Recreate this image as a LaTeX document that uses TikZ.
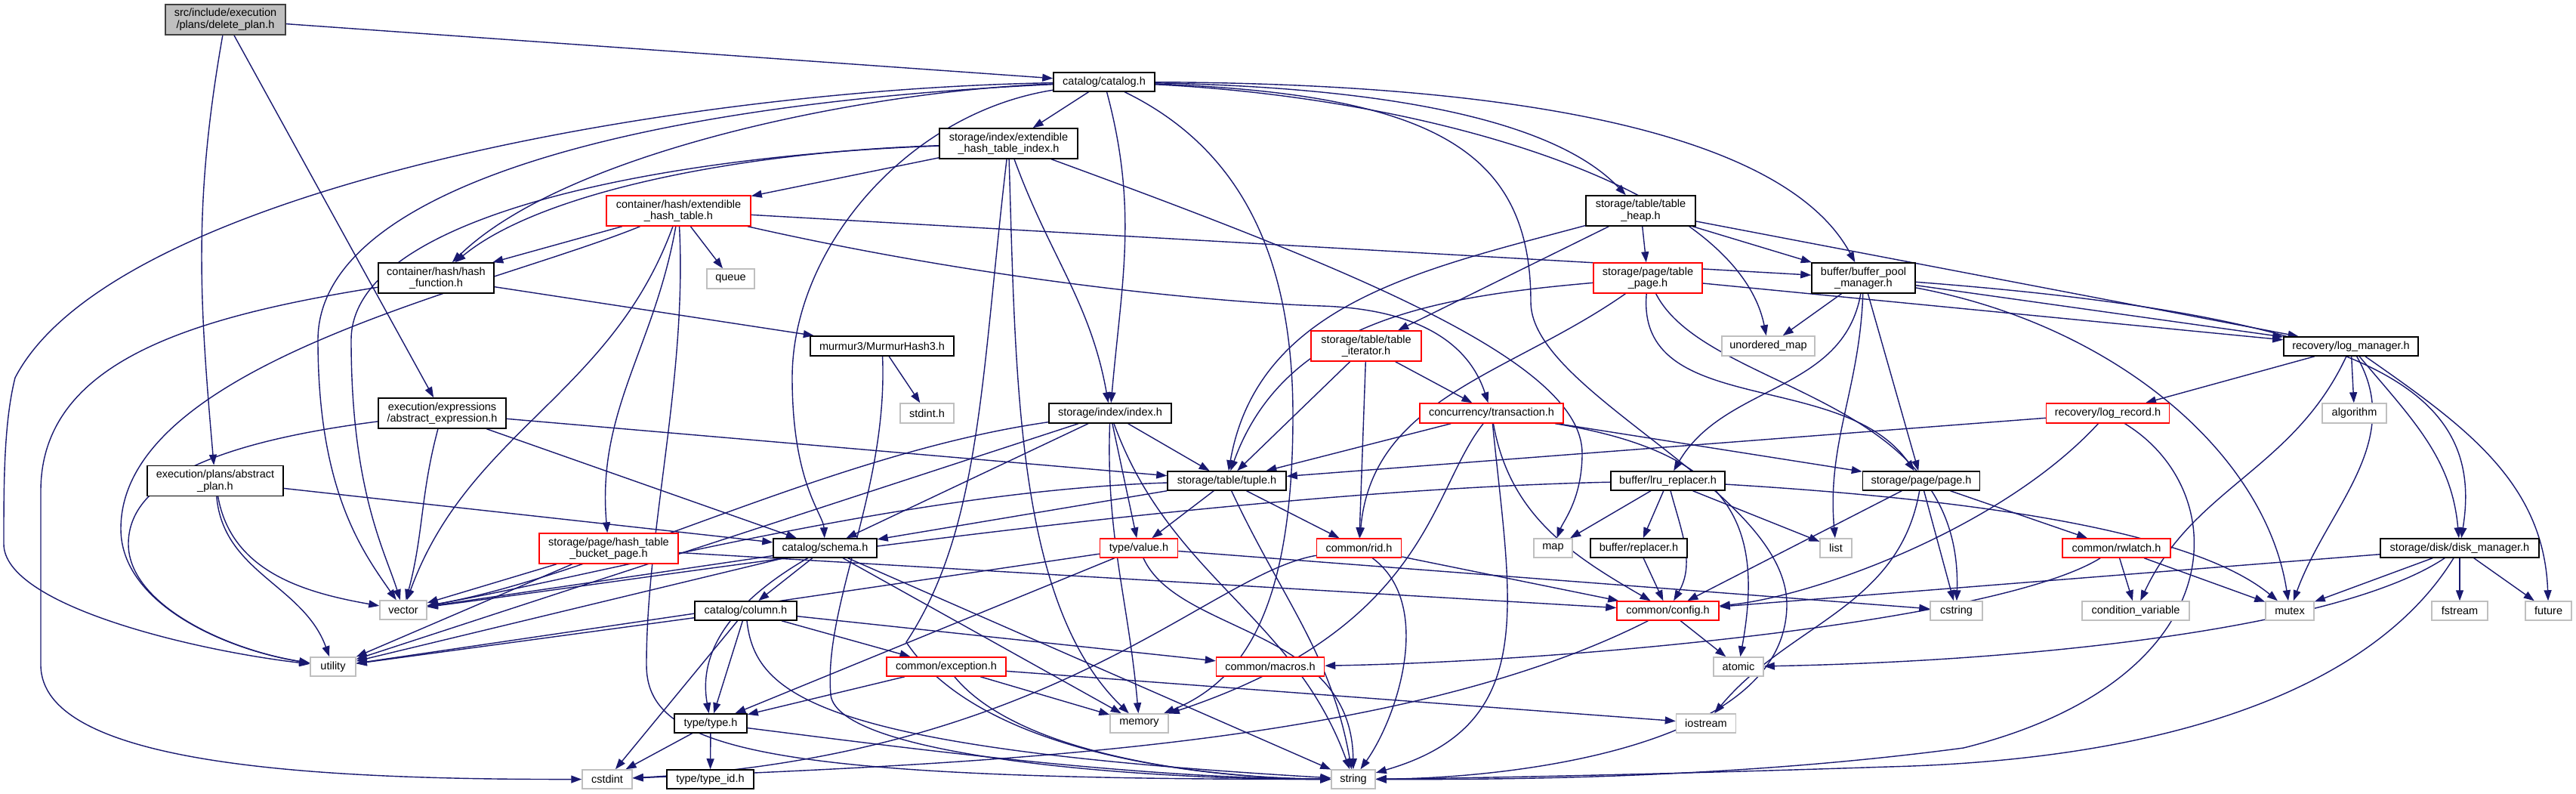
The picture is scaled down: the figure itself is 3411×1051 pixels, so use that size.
\documentclass[tikz,border=0pt]{standalone}
\usepackage{fontspec}
\setmainfont{Liberation Sans}
\usetikzlibrary{arrows.meta}
\pgfdeclarelayer{bg}
\pgfsetlayers{bg,main}
\definecolor{edgec}{HTML}{191970}
\definecolor{sysc}{HTML}{BFBFBF}
\definecolor{redc}{HTML}{FF0000}
\definecolor{rootf}{HTML}{BFBFBF}
\definecolor{rootb}{HTML}{404040}
\tikzset{
  base/.style={draw, line width=1.5pt, inner sep=0pt, fill=white, align=center,
     font=\fontsize{14.5}{15.5}\selectfont, minimum height=25pt},
  docn/.style={base, draw=black},
  rnode/.style={base, draw=redc},
  sysn/.style={base, draw=sysc},
  rootn/.style={base, draw=rootb, fill=rootf},
  two/.style={minimum height=40pt},
  edg/.style={draw=edgec, line width=1.4pt, -{Triangle[length=14pt,width=10pt]}}
}
\begin{document}
\begin{tikzpicture}[x=1pt,y=1pt]
\useasboundingbox (0,0) rectangle (3411,-1051);
% nodes
\node[rootn,two,minimum width=159pt] (d0) at (298.5,-26) {src/include/execution\\/plans/delete\_plan.h};
\node[docn,minimum width=134pt] (catalog) at (1462,-108.5) {catalog/catalog.h};
\node[docn,two,minimum width=183pt] (extidx) at (1335.5,-190) {storage/index/extendible\\\_hash\_table\_index.h};
\node[rnode,two,minimum width=191pt] (exthash) at (898.5,-279) {container/hash/extendible\\\_hash\_table.h};
\node[docn,two,minimum width=145pt] (tableheap) at (2172.5,-279) {storage/table/table\\\_heap.h};
\node[docn,two,minimum width=153pt] (hashfn) at (577.5,-368) {container/hash/hash\\\_function.h};
\node[sysn,minimum width=63pt,minimum height=26pt] (queue) at (967.5,-369) {queue};
\node[rnode,two,minimum width=144pt] (tablepage) at (2182,-368) {storage/page/table\\\_page.h};
\node[docn,two,minimum width=137pt] (bpm) at (2467.5,-368) {buffer/buffer\_pool\\\_manager.h};
\node[docn,minimum width=190pt,minimum height=26pt] (murmur) at (1168,-458) {murmur3/MurmurHash3.h};
\node[rnode,two,minimum width=146pt] (tableiter) at (1809,-458) {storage/table/table\\\_iterator.h};
\node[sysn,minimum width=123pt,minimum height=26pt] (umap) at (2341.5,-458) {unordered\_map};
\node[docn,minimum width=178pt] (logmgr) at (3113,-458.5) {recovery/log\_manager.h};
\node[docn,two,minimum width=169pt] (absexpr) at (585.5,-547) {execution/expressions\\/abstract\_expression.h};
\node[sysn,minimum width=71pt,minimum height=26pt] (stdint) at (1227.5,-547) {stdint.h};
\node[docn,minimum width=162pt,minimum height=26pt] (index) at (1470,-547) {storage/index/index.h};
\node[rnode,minimum width=190pt,minimum height=26pt] (txn) at (1975,-547) {concurrency/transaction.h};
\node[rnode,minimum width=163pt,minimum height=26pt] (logrec) at (2791,-547) {recovery/log\_record.h};
\node[sysn,minimum width=85pt,minimum height=26pt] (algorithm) at (3117.5,-547) {algorithm};
\node[docn,two,minimum width=180pt] (absplan) at (285,-636.5) {execution/plans/abstract\\\_plan.h};
\node[docn,minimum width=157pt] (tuple) at (1624.5,-636.5) {storage/table/tuple.h};
\node[docn,minimum width=151pt] (lru) at (2208.5,-636.5) {buffer/lru\_replacer.h};
\node[docn,minimum width=155pt] (page) at (2544,-636.5) {storage/page/page.h};
\node[rnode,two,minimum width=184pt] (bucket) at (806,-726) {storage/page/hash\_table\\\_bucket\_page.h};
\node[docn,minimum width=137pt] (schema) at (1092.5,-725.5) {catalog/schema.h};
\node[rnode,minimum width=103pt] (value) at (1508,-725.5) {type/value.h};
\node[rnode,minimum width=112pt] (rid) at (1799.5,-725.5) {common/rid.h};
\node[sysn,minimum width=51pt] (map) at (2056.5,-725.5) {map};
\node[docn,minimum width=128pt] (replacer) at (2170,-725.5) {buffer/replacer.h};
\node[sysn,minimum width=42pt] (list) at (2431,-725.5) {list};
\node[rnode,minimum width=143pt] (rwlatch) at (2802.5,-725.5) {common/rwlatch.h};
\node[docn,minimum width=210pt] (disk) at (3257,-725.5) {storage/disk/disk\_manager.h};
\node[sysn,minimum width=62pt] (vector) at (534,-807.5) {vector};
\node[docn,minimum width=135pt] (column) at (987.5,-808.5) {catalog/column.h};
\node[rnode,minimum width=135pt] (config) at (2208.5,-808.5) {common/config.h};
\node[sysn,minimum width=69pt] (cstring) at (2590.5,-808.5) {cstring};
\node[sysn,minimum width=142pt] (condvar) at (2828,-808.5) {condition\_variable};
\node[sysn,minimum width=64pt] (mutex) at (3032,-808.5) {mutex};
\node[sysn,minimum width=74pt] (fstream) at (3257,-808.5) {fstream};
\node[sysn,minimum width=61pt] (future) at (3374.5,-808.5) {future};
\node[sysn,minimum width=60pt] (utility) at (441,-882.5) {utility};
\node[rnode,minimum width=158pt] (exception) at (1253,-882.5) {common/exception.h};
\node[rnode,minimum width=143pt] (macros) at (1682,-882.5) {common/macros.h};
\node[sysn,minimum width=66pt] (atomic) at (2302,-882.5) {atomic};
\node[docn,minimum width=96pt] (type) at (941,-957.5) {type/type.h};
\node[sysn,minimum width=77pt] (memory) at (1508.5,-957.5) {memory};
\node[sysn,minimum width=79pt] (iostream) at (2259,-957.5) {iostream};
\node[sysn,minimum width=66pt] (cstdint) at (804,-1031.5) {cstdint};
\node[docn,minimum width=115pt] (typeid) at (940.5,-1031.5) {type/type\_id.h};
\node[sysn,minimum width=58pt] (string) at (1792,-1031.5) {string};
% edges
\begin{pgfonlayer}{bg}
\fill[white] (0,0) rectangle (3411,-1051);
% delete_plan
\draw[edg] (d0) -- (catalog);
\draw[edg] (d0) to[out=-100,in=95] (absplan);
\draw[edg] (d0) -- (absexpr);
% catalog
\draw[edg] (catalog) -- (extidx);
\draw[edg] (catalog) .. controls (1150,-120) and (750,-200) .. (hashfn);
\draw[edg] (catalog) .. controls (900,-118) and (150,-250) .. (20,-500) .. controls (5,-560) and (5,-640) .. (5,-720) .. controls (5,-800) and (250,-860) .. (utility);
\draw[edg] (catalog) .. controls (800,-140) and (421,-260) .. (421,-450) .. controls (421,-650) and (480,-730) .. (vector);
\draw[edg] (catalog) .. controls (1200,-150) and (1049,-330) .. (1049,-500) .. controls (1049,-640) and (1090,-680) .. (schema);
\draw[edg] (catalog) to[out=-75,in=85] (index);
\draw[edg] (catalog) .. controls (1800,-115) and (2050,-150) .. (tableheap);
\draw[edg] (catalog) .. controls (1900,-110) and (2350,-150) .. (bpm);
\draw[edg] (catalog) .. controls (1900,-130) and (2300,-250) .. (umap);
\draw[edg] (catalog) .. controls (1650,-200) and (1712,-350) .. (1712,-550) .. controls (1712,-800) and (1650,-900) .. (memory);
\draw[edg] (catalog) .. controls (1900,-125) and (2027,-200) .. (2027,-400) .. controls (2027,-520) and (2366,-650) .. (2366,-800) .. controls (2366,-990) and (2000,-1030) .. (string);
% extidx
\draw[edg] (extidx) -- (exthash);
\draw[edg] (extidx) .. controls (1000,-200) and (720,-250) .. (hashfn);
\draw[edg] (extidx) .. controls (900,-205) and (465,-280) .. (465,-450) .. controls (465,-650) and (510,-730) .. (vector);
\draw[edg] (extidx) .. controls (1299,-500) and (1299,-700) .. (1200,-850) .. controls (1300,-1000) and (1600,-1030) .. (string);
\draw[edg] (extidx) .. controls (1345,-500) and (1345,-800) .. (memory);
\draw[edg] (extidx) to[out=-70,in=100] (index);
\draw[edg] (extidx) .. controls (1800,-360) and (2095,-480) .. (2095,-600) .. controls (2095,-660) and (2070,-690) .. (map);
% exthash
\draw[edg] (exthash) -- (hashfn);
\draw[edg] (exthash) -- (queue);
\draw[edg] (exthash) -- (bpm);
\draw[edg] (exthash) .. controls (1300,-370) and (1600,-400) .. (1750,-405) .. controls (1900,-410) and (1950,-470) .. (txn);
\draw[edg] (exthash) to[out=-100,in=95] (bucket);
\draw[edg] (exthash) .. controls (650,-380) and (160,-480) .. (160,-700) .. controls (160,-800) and (300,-860) .. (utility);
\draw[edg] (exthash) to[out=-110,in=70] (vector);
\draw[edg] (exthash) .. controls (910,-500) and (856,-700) .. (856,-880) .. controls (856,-990) and (1000,-1032) .. (string);
% hashfn
\draw[edg] (hashfn) -- (murmur);
\draw[edg] (hashfn) .. controls (250,-420) and (54,-480) .. (54,-650) -- (54,-880) .. controls (54,-1010) and (400,-1032) .. (cstdint);
% murmur
\draw[edg] (murmur) -- (stdint);
\draw[edg] (murmur) .. controls (1176,-650) and (1090,-800) .. (1100,-920) .. controls (1110,-1000) and (1500,-1032) .. (string);
% absexpr
\draw[edg] (absexpr) .. controls (250,-590) and (170,-650) .. (170,-720) .. controls (170,-800) and (300,-860) .. (utility);
\draw[edg] (absexpr) to[out=-105,in=75] (vector);
\draw[edg] (absexpr) -- (tuple);
\draw[edg] (absexpr) -- (schema);
% absplan
\draw[edg] (absplan) -- (schema);
\draw[edg] (absplan) to[out=-85,in=110] (utility);
\draw[edg] (absplan) to[out=-80,in=170] (vector);
% index
\draw[edg] (index) -- (tuple);
\draw[edg] (index) -- (value);
\draw[edg] (index) -- (schema);
\draw[edg] (index) .. controls (1100,-600) and (800,-760) .. (vector);
\draw[edg] (index) -- (utility);
\draw[edg] (index) to[out=-92,in=95] (memory);
\draw[edg] (index) to[out=-70,in=110] (string);
% tuple
\draw[edg] (tuple) .. controls (1200,-650) and (800,-760) .. (vector);
\draw[edg] (tuple) -- (schema);
\draw[edg] (tuple) -- (value);
\draw[edg] (tuple) to[out=-65,in=100] (string);
\draw[edg] (tuple) -- (rid);
% tableheap
\draw[edg] (tableheap) to[out=195,in=80] (tuple);
\draw[edg] (tableheap) -- (tableiter);
\draw[edg] (tableheap) -- (tablepage);
\draw[edg] (tableheap) -- (bpm);
\draw[edg] (tableheap) -- (logmgr);
% tablepage
\draw[edg] (tablepage) to[out=185,in=70] (tuple);
\draw[edg] (tablepage) to[out=215,in=85] (rid);
\draw[edg] (tablepage) to[out=-95,in=125] (page);
\draw[edg] (tablepage) .. controls (2260,-520) and (2600,-520) .. (cstring);
\draw[edg] (tablepage) -- (logmgr);
% bpm
\draw[edg] (bpm) -- (umap);
\draw[edg] (bpm) to[out=-100,in=60] (lru);
\draw[edg] (bpm) to[out=-92,in=95] (list);
\draw[edg] (bpm) -- (page);
\draw[edg] (bpm) -- (logmgr);
\draw[edg] (bpm) .. controls (3150,-420) and (3290,-520) .. (disk);
\draw[edg] (bpm) .. controls (2800,-430) and (3000,-600) .. (mutex);
% tableiter
\draw[edg] (tableiter) -- (tuple);
\draw[edg] (tableiter) -- (rid);
\draw[edg] (tableiter) -- (txn);
% logmgr
\draw[edg] (logmgr) -- (logrec);
\draw[edg] (logmgr) to[out=-115,in=65] (condvar);
\draw[edg] (logmgr) -- (algorithm);
\draw[edg] (logmgr) to[out=-60,in=70] (mutex);
\draw[edg] (logmgr) to[out=-50,in=95] (disk);
\draw[edg] (logmgr) to[out=-35,in=92] (future);
% txn
\draw[edg] (txn) -- (tuple);
\draw[edg] (txn) .. controls (1893,-650) and (1893,-830) .. (memory);
\draw[edg] (txn) .. controls (2000,-800) and (2040,-960) .. (string);
\draw[edg] (txn) -- (page);
\draw[edg] (txn) .. controls (2300,-600) and (2335,-700) .. (atomic);
\draw[edg] (txn) to[out=-80,in=150] (config);
% logrec
\draw[edg] (logrec) -- (tuple);
\draw[edg] (logrec) .. controls (2650,-700) and (2400,-790) .. (config);
\draw[edg] (logrec) .. controls (2960,-650) and (2960,-900) .. (2600,-990) .. controls (2300,-1030) and (2000,-1032) .. (string);
% page
\draw[edg] (page) -- (config);
\draw[edg] (page) -- (cstring);
\draw[edg] (page) to[out=-100,in=50] (iostream);
\draw[edg] (page) -- (rwlatch);
% lru
\draw[edg] (lru) .. controls (1600,-650) and (900,-760) .. (vector);
\draw[edg] (lru) -- (map);
\draw[edg] (lru) -- (replacer);
\draw[edg] (lru) to[out=-75,in=60] (config);
\draw[edg] (lru) -- (list);
\draw[edg] (lru) .. controls (2600,-660) and (2900,-700) .. (mutex);
% replacer
\draw[edg] (replacer) -- (config);
% rwlatch
\draw[edg] (rwlatch) -- (condvar);
\draw[edg] (rwlatch) -- (mutex);
\draw[edg] (rwlatch) .. controls (2650,-820) and (2100,-875) .. (macros);
% disk
\draw[edg] (disk) -- (config);
\draw[edg] (disk) -- (mutex);
\draw[edg] (disk) .. controls (3100,-830) and (2700,-875) .. (atomic);
\draw[edg] (disk) .. controls (3150,-900) and (2900,-1005) .. (2500,-1015) .. controls (2200,-1025) and (1950,-1030) .. (string);
\draw[edg] (disk) -- (fstream);
\draw[edg] (disk) -- (future);
% schema
\draw[edg] (schema) -- (column);
\draw[edg] (schema) to[out=-150,in=100] (type);
\draw[edg] (schema) -- (memory);
\draw[edg] (schema) -- (string);
\draw[edg] (schema) -- (vector);
\draw[edg] (schema) -- (utility);
% column
\draw[edg] (column) -- (utility);
\draw[edg] (column) -- (cstdint);
\draw[edg] (column) -- (type);
\draw[edg] (column) .. controls (1000,-920) and (1080,-990) .. (string);
\draw[edg] (column) -- (exception);
\draw[edg] (column) -- (macros);
% value
\draw[edg] (value) -- (utility);
\draw[edg] (value) -- (type);
\draw[edg] (value) .. controls (1560,-840) and (1790,-830) .. (string);
\draw[edg] (value) -- (cstring);
% rid
\draw[edg] (rid) .. controls (1600,-760) and (1400,-1000) .. (cstdint);
\draw[edg] (rid) .. controls (1900,-800) and (1850,-950) .. (string);
\draw[edg] (rid) -- (config);
% config
\draw[edg] (config) -- (atomic);
\draw[edg] (config) .. controls (1850,-990) and (1300,-1010) .. (cstdint);
% exception
\draw[edg] (exception) -- (type);
\draw[edg] (exception) .. controls (1350,-1000) and (1600,-1030) .. (string);
\draw[edg] (exception) -- (memory);
\draw[edg] (exception) -- (iostream);
% type
\draw[edg] (type) -- (cstdint);
\draw[edg] (type) -- (typeid);
\draw[edg] (type) .. controls (1200,-990) and (1500,-1030) .. (string);
% bucket
\draw[edg] (bucket) -- (vector);
\draw[edg] (bucket) -- (utility);
\draw[edg] (bucket) -- (config);
\end{pgfonlayer}
\end{tikzpicture}
\end{document}
